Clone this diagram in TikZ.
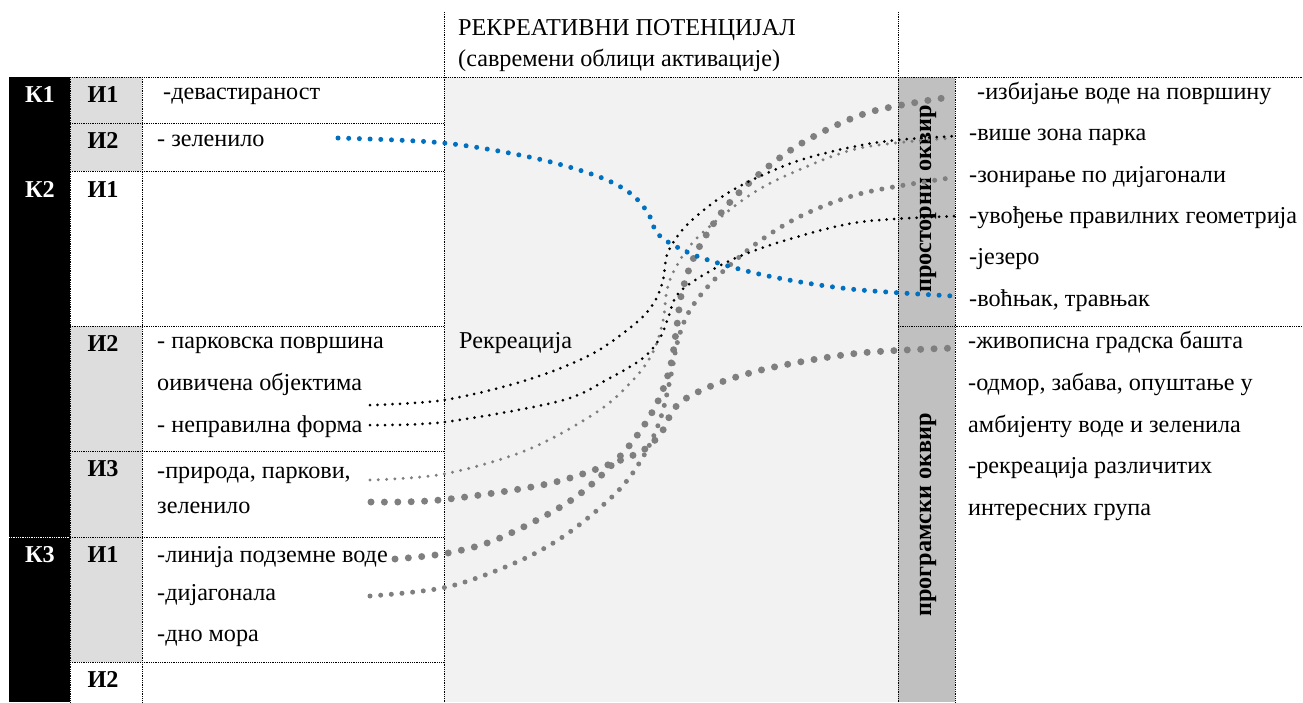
\documentclass[tikz,border=0pt]{standalone}
\usepackage{fontspec}
\setmainfont{Liberation Serif}
\definecolor{cblue}{HTML}{0070C0}
\definecolor{dotgray}{HTML}{7F7F7F}
\definecolor{igray}{HTML}{DDDDDD}
\definecolor{mgray}{HTML}{F2F2F2}
\definecolor{rgray}{HTML}{C0C0C0}
\tikzset{
  tline/.style={draw=black, line width=0.8pt, dash pattern=on 0.9pt off 0.9pt},
  wline/.style={draw=white, line width=0.8pt, dash pattern=on 0.9pt off 0.9pt},
  txt/.style={font=\fontsize{24.2}{28}\selectfont, anchor=base west, inner sep=0pt},
  lab/.style={font=\fontsize{24.2}{28}\selectfont\bfseries, anchor=base, inner sep=0pt},
  klab/.style={lab, text=white},
  rot/.style={lab, anchor=center, rotate=90},
  bluedots/.style={draw=cblue, line width=5pt, line cap=round, dash pattern=on 0pt off 10.7pt},
  blackdots/.style={draw=black, line width=3pt, line cap=round, dash pattern=on 0pt off 7.5pt},
  gsmall/.style={draw=dotgray, line width=3.3pt, line cap=round, dash pattern=on 0pt off 8.3pt},
  gmed/.style={draw=dotgray, line width=5pt, line cap=round, dash pattern=on 0pt off 10.7pt},
  gbig/.style={draw=dotgray, line width=7pt, line cap=round, dash pattern=on 0pt off 13.4pt},
  curve/.style={smooth, tension=0.55}
}
\begin{document}
\begin{tikzpicture}[x=1pt,y=-1pt]
\useasboundingbox (0,0) rectangle (1303,702);
\fill[white] (0,0) rectangle (1303,702);
% fills
\fill[mgray] (444,77) rectangle (898,702);
\fill[rgray] (898,77) rectangle (955,702);
\fill[black] (9,77) rectangle (70,702);
\fill[igray] (70,77) rectangle (142,171);
\fill[igray] (70,326) rectangle (142,662);
% grid lines
\draw[tline] (9,77) -- (1303,77);
\draw[tline] (70,123) -- (444,123);
\draw[tline] (70,171) -- (444,171);
\draw[tline] (70,326) -- (444,326);
\draw[tline] (898,326) -- (1303,326);
\draw[tline] (70,451) -- (444,451);
\draw[wline] (9,537) -- (70,537);
\draw[tline] (70,537) -- (444,537);
\draw[tline] (70,662) -- (444,662);
\draw[tline] (70,77) -- (70,702);
\draw[tline] (142,77) -- (142,702);
\draw[tline] (444,12) -- (444,702);
\draw[tline] (898,12) -- (898,702);
\draw[tline] (955,77) -- (955,702);
% K labels
\node[klab] (k1) at (40,102) {К1};
\node[klab] (k2) at (40,197) {К2};
\node[klab] (k3) at (40,562) {К3};
% I labels
\node[lab] (i11) at (103,102) {И1};
\node[lab] (i12) at (103,148) {И2};
\node[lab] (i21) at (103,197) {И1};
\node[lab] (i22) at (103,351) {И2};
\node[lab] (i23) at (103,476) {И3};
\node[lab] (i31) at (103,562) {И1};
\node[lab] (i32) at (103,687) {И2};
% left texts
\node[txt] (t1) at (163,99) {-девастираност};
\node[txt] (t2) at (157,146) {- зеленило};
\node[txt] (t3) at (157,348) {- парковска површина};
\node[txt] (t4) at (157,390) {оивичена објектима};
\node[txt] (t5) at (157,432) {- неправилна форма};
\node[txt] (t6) at (157,478) {-природа, паркови,};
\node[txt] (t7) at (157,513) {зеленило};
\node[txt] (t8) at (157,562) {-линија подземне воде};
\node[txt] (t9) at (157,600) {-дијагонала};
\node[txt] (t10) at (157,641) {-дно мора};
% header
\node[txt] (h1) at (458,35) {РЕКРЕАТИВНИ ПОТЕНЦИЈАЛ};
\node[txt] (h2) at (458,66) {(савремени облици активације)};
\node[txt] (rek) at (459,348) {Рекреација};
% rotated
\node[rot] (po) at (928,199) {просторни оквир};
\node[rot] (pr) at (928,515) {програмски оквир};
% right texts
\node[txt] (r1) at (977,99) {-избијање воде на површину};
\node[txt] (r2) at (969,140) {-више зона парка};
\node[txt] (r3) at (969,182) {-зонирање по дијагонали};
\node[txt] (r4) at (969,223) {-увођење правилних геометрија};
\node[txt] (r5) at (969,264) {-језеро};
\node[txt] (r6) at (969,306) {-воћњак, травњак};
\node[txt] (r7) at (968,348) {-живописна градска башта};
\node[txt] (r8) at (968,390) {-одмор, забава, опуштање у};
\node[txt] (r9) at (968,432) {амбијенту воде и зеленила};
\node[txt] (r10) at (968,473) {-рекреација различитих};
\node[txt] (r11) at (968,515) {интересних група};
% connector ends
\coordinate (bS) at (338,138);  \coordinate (bE) at (953,296);
\coordinate (k1S) at (370,405); \coordinate (k1E) at (957,136);
\coordinate (k2S) at (370,425); \coordinate (k2E) at (957,216);
\coordinate (g1S) at (370,480); \coordinate (g1E) at (953,138);
\coordinate (g2S) at (371,502); \coordinate (g2E) at (955,348);
\coordinate (g3S) at (395,559); \coordinate (g3E) at (950,97);
\coordinate (g4S) at (370,596); \coordinate (g4E) at (950,178);
% connectors
\draw[gbig] plot[curve] coordinates {(g3S) (448,553) (500,538) (573,499) (623,453) (654,409) (670,368) (677,325) (682,292) (696,253) (725,208) (764,170) (809,139) (870,112) (g3E)};
\draw[gbig] plot[curve] coordinates {(g2S) (440,500) (547,484) (613,463) (645,449) (663,430) (673,410) (690,396) (727,380) (779,366) (860,353) (g2E)};
\draw[gmed] plot[curve] coordinates {(g4S) (447,587) (517,562) (567,534) (617,492) (643,457) (660,420) (670,380) (678,340) (690,310) (715,279) (757,243) (803,215) (863,193) (g4E)};
\draw[gsmall] plot[curve] coordinates {(g1S) (444,474) (527,450) (597,412) (634,379) (653,352) (663,321) (667,290) (676,267) (697,238) (747,197) (792,173) (860,148) (g1E)};
\draw[blackdots] plot[curve] coordinates {(k1S) (444,400) (527,380) (592,354) (637,322) (655,301) (663,280) (668,252) (686,226) (717,200) (754,179) (807,158) (880,142) (k1E)};
\draw[blackdots] plot[curve] coordinates {(k2S) (445,422) (560,401) (608,379) (643,358) (660,338) (668,318) (677,295) (700,277) (738,257) (790,239) (860,222) (k2E)};
\draw[bluedots] plot[curve] coordinates {(bS) (444,143) (534,158) (597,176) (630,193) (648,213) (657,233) (675,246) (705,259) (768,276) (850,289) (bE)};
\end{tikzpicture}
\end{document}
